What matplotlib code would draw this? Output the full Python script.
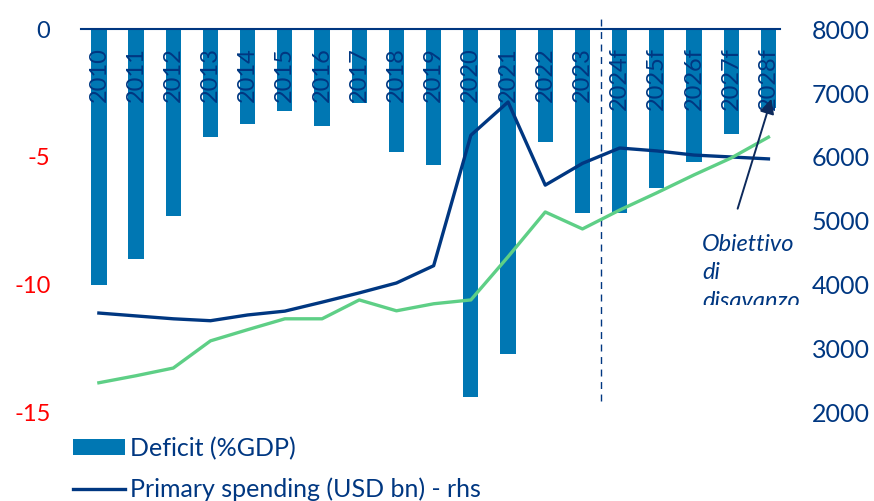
import matplotlib.pyplot as plt
from matplotlib.transforms import Bbox, TransformedBbox

years = ["2010", "2011", "2012", "2013", "2014", "2015", "2016", "2017", "2018", "2019",
         "2020", "2021", "2022", "2023", "2024f", "2025f", "2026f", "2027f", "2028f"]
deficit = [-10.0, -9.0, -7.3, -4.2, -3.7, -3.2, -3.8, -2.9, -4.8, -5.3,
           -14.4, -12.7, -4.4, -7.2, -7.2, -6.2, -5.2, -4.1, -3.1]
spending = [3560, 3515, 3470, 3440, 3530, 3590, 3730, 3875, 4030, 4300,
            6340, 6860, 5560, 5900, 6140, 6095, 6030, 6000, 5970]
revenue = [2470, 2580, 2700, 3125, 3300, 3470, 3470, 3765, 3595, 3705,
           3765, 4440, 5140, 4875, 5170, 5440, 5720, 5985, 6310]
left_ticks = [0, -5, -10, -15]
right_ticks = [2000, 3000, 4000, 5000, 6000, 7000, 8000]

NAVY = "#003781"
BAR = "#0077b3"
GREEN = "#5ecf86"
FONT = "Lato"


def main():
    plt.rcParams["font.family"] = [FONT, "DejaVu Sans"]
    fig = plt.figure(figsize=(8.74, 5.01), dpi=100)
    ax = fig.add_axes([0.0927, 0.176, 0.7993, 0.766])
    x = list(range(len(years)))

    bars = ax.bar(x, deficit, width=0.41, color=BAR, label="Deficit (%GDP)", zorder=2)
    ax.set_ylim(-15, 0)
    ax.set_xlim(-0.48, len(years) - 0.7)
    ax.set_yticks(left_ticks)
    ax.set_yticklabels([str(t) for t in left_ticks], fontsize=17)
    for lbl, t in zip(ax.get_yticklabels(), left_ticks):
        lbl.set_color(NAVY if t == 0 else "red")
    ax.tick_params(axis="y", length=0, pad=22)
    ax.set_xticks([])
    for s in ["left", "right", "bottom"]:
        ax.spines[s].set_visible(False)
    ax.spines["top"].set_color(NAVY)
    ax.spines["top"].set_linewidth(1.5)

    for i, y in enumerate(years):
        ax.text(i, -0.7, y, rotation=90, ha="center", va="top", color=NAVY,
                fontsize=17, zorder=5)

    ax2 = ax.twinx()
    line, = ax2.plot(x, spending, color=NAVY, lw=2.4, label="Primary spending (USD bn) - rhs", zorder=3)
    ax2.plot(x, revenue, color=GREEN, lw=2.4, zorder=3)
    ax2.set_ylim(2000, 8000)
    ax2.set_yticks(right_ticks)
    ax2.set_yticklabels([str(t) for t in right_ticks], fontsize=18, color=NAVY)
    ax2.tick_params(axis="y", length=0, pad=23)
    for s in ["left", "right", "bottom", "top"]:
        ax2.spines[s].set_visible(False)

    # forecast separator
    ax2.axvline(13.5, ymin=0.03, ymax=1.04, color=NAVY, lw=1, ls=(0, (5, 4)), clip_on=False)

    # target annotation
    ax2.annotate("", xy=(18.1, 6950), xytext=(17.15, 5150),
                 arrowprops=dict(arrowstyle="-|>", color="#0d2a5c", lw=1.4, mutation_scale=22))
    txt = ax2.text(16.22, 4800, "Obiettivo\ndi\ndisavanzo", style="italic", color=NAVY,
                   fontsize=17, ha="left", va="top", linespacing=1.45)
    clip = TransformedBbox(Bbox([[0.75, 0.391], [0.95, 0.6]]), fig.transFigure)
    txt.set_clip_box(clip)
    txt.set_clip_on(True)

    fig.legend([bars, line], ["Deficit (%GDP)", "Primary spending (USD bn) - rhs"],
               loc="upper left", bbox_to_anchor=(0.083, 0.128), frameon=False,
               fontsize=18, labelcolor=NAVY, handlelength=2.1, handleheight=0.6,
               handletextpad=0.2, labelspacing=0.7, borderaxespad=0, borderpad=0)

    fig.savefig("out.png", dpi=100)


if __name__ == "__main__":
    main()
